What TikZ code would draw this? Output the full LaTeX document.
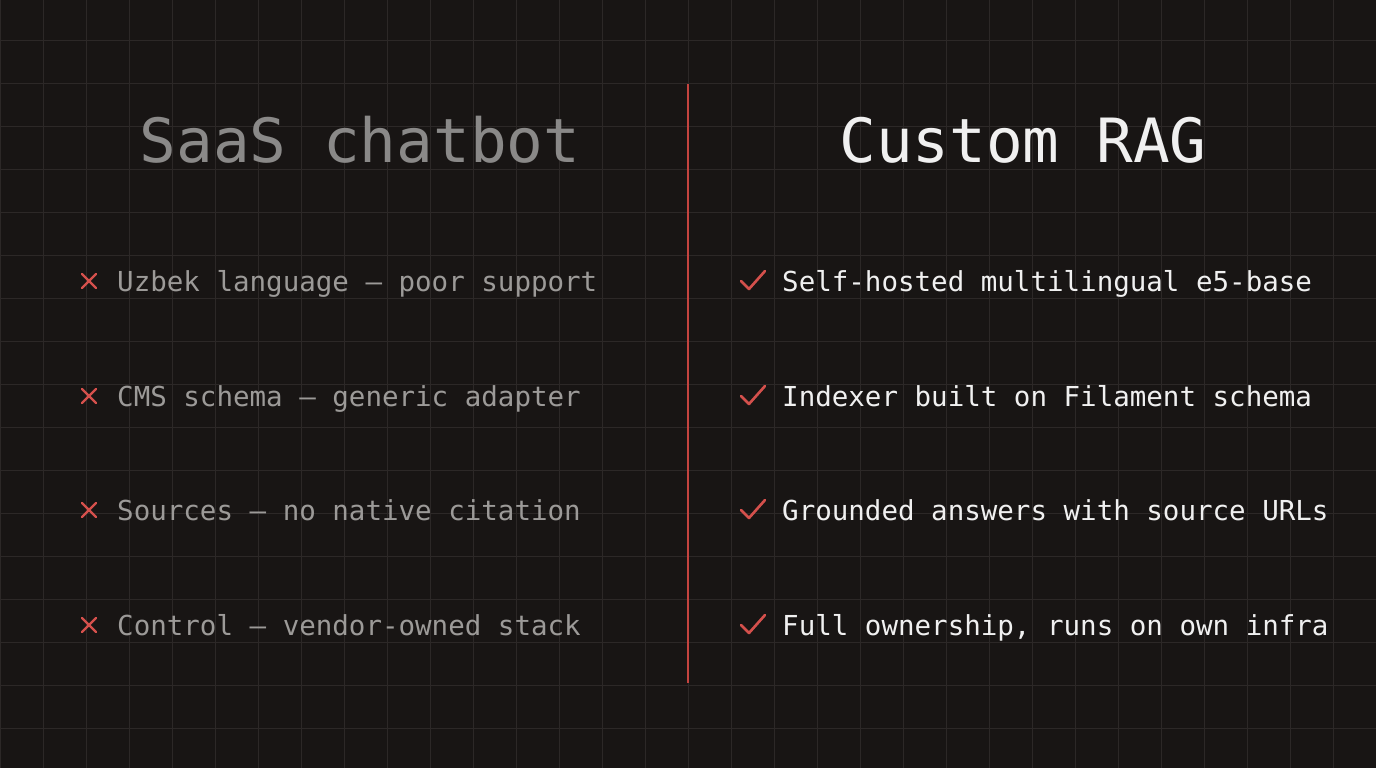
\documentclass[tikz,border=0pt]{standalone}
\usepackage{fontspec}
\setmonofont{DejaVu Sans Mono}
\begin{document}
\begin{tikzpicture}[x=1pt,y=-1pt,
  item/.style={anchor=base west,font=\ttfamily\fontsize{27.5}{30}\selectfont,inner sep=0pt},
  bad/.style={item,text=gray9},
  good/.style={item,text=white!94!black},
  ttl/.style={font=\ttfamily\fontsize{61}{64}\selectfont,inner sep=0pt,anchor=base},
  glyph/.style={draw=redx,line width=2.6pt,line cap=round,line join=round}]
\definecolor{bg}{HTML}{181514}
\definecolor{gridc}{HTML}{2C2827}
\definecolor{gray9}{HTML}{9C9A98}
\definecolor{gray8}{HTML}{8A8988}
\definecolor{redx}{HTML}{D4504C}
\definecolor{redl}{HTML}{C4443F}
\fill[bg] (0,0) rectangle (1376,768);
\useasboundingbox (0,0) rectangle (1376,768);
\foreach \i in {0,...,31} \draw[gridc,line width=0.8pt] (43*\i,0) -- (43*\i,768);
\foreach \j in {0,...,17} \draw[gridc,line width=0.8pt] (0,40+43*\j) -- (1376,40+43*\j);
\node[ttl,text=gray8] (tl) at (360,162) {SaaS chatbot};
\node[ttl,text=white!94!black] (tr) at (1023,162) {Custom RAG};
\coordinate (dtop) at (688,84); \coordinate (dbot) at (688,683);
\draw[redl,line width=1.8pt] (dtop) -- (dbot);
\foreach \y/\l/\r [count=\k] in {281/Uzbek language – poor support/Self-hosted multilingual e5-base,
  396/CMS schema – generic adapter/Indexer built on Filament schema,
  510/Sources – no native citation/Grounded answers with source URLs,
  625/Control – vendor-owned stack/Full ownership{,} runs on own infra}{
  \draw[glyph,line width=2.2pt] (82,\y-7) -- (96,\y+7) (82,\y+7) -- (96,\y-7);
  \node[bad] (l\k) at (117,\y+10) {\l};
  \draw[glyph] (741,\y) -- (749,\y+8) -- (765,\y-10);
  \node[good] (r\k) at (782,\y+10) {\r};
}
\end{tikzpicture}
\end{document}
